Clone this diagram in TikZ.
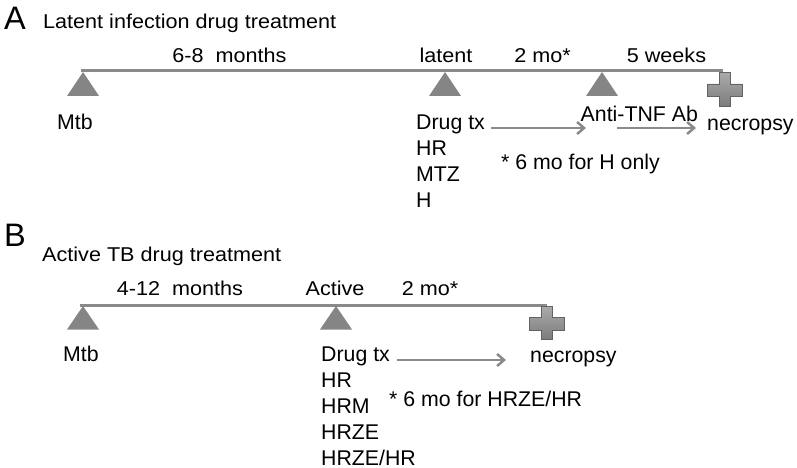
\documentclass[tikz,border=0pt]{standalone}
\usepackage{fontspec}
\setmainfont{Liberation Sans}
\newfontfamily\widefont{Liberation Sans}[FakeStretch=1.08]
\usetikzlibrary{arrows.meta}
\definecolor{tlgray}{HTML}{8A8A8A}
\definecolor{trigray}{HTML}{858585}
\definecolor{crosstop}{HTML}{ABABAB}
\definecolor{crossbot}{HTML}{7C7C7C}
\tikzset{
  lbl/.style={inner sep=0pt, anchor=base west, font=\fontsize{21.3}{25}\selectfont},
  toplbl/.style={inner sep=0pt, anchor=base, font=\widefont\fontsize{20}{24}\selectfont},
  ttl/.style={inner sep=0pt, anchor=base west, font=\widefont\fontsize{20}{24}\selectfont},
  panel/.style={inner sep=0pt, anchor=base west, font=\fontsize{32.5}{36}\selectfont},
  tline/.style={draw=tlgray, line width=3pt},
  tri/.style={fill=trigray},
  arr/.style={draw=tlgray, line width=2.5pt, -{Straight Barb[length=7pt,width=12pt,line width=2.5pt]}},
  crossmark/.pic={
    \shade[top color=crosstop, bottom color=crossbot, draw=crossbot!80!black, line width=0.4pt]
      (-5.5,0) -- (5.5,0) -- (5.5,11.5) -- (17.5,11.5) -- (17.5,24) -- (5.5,24)
      -- (5.5,33.5) -- (-5.5,33.5) -- (-5.5,24) -- (-17.5,24) -- (-17.5,11.5)
      -- (-5.5,11.5) -- cycle;
  }
}
\begin{document}
\begin{tikzpicture}[x=1pt,y=-1pt]
\useasboundingbox (0,0) rectangle (797,468);

% ---------------- Panel A ----------------
\node[panel] (pA) at (4,30) {A};
\node[ttl] (titleA) at (43,28.5) {Latent infection drug treatment};

\node[toplbl] (durA) at (229.5,63) {6-8\ \ months};
\node[toplbl] (latA) at (446,62.5) {latent};
\node[toplbl] (twoA) at (542.5,62.5) {2 mo*};
\node[toplbl] (fiveA) at (666.5,62.5) {5 weeks};

\coordinate (startA) at (81,71);
\coordinate (endA) at (723,71);
\coordinate (t1A) at (83,72);
\coordinate (t2A) at (445,72);
\coordinate (t3A) at (602,72);
\draw[tline] (startA) -- (endA);
\fill[tri] (t1A) -- ++(16,24) -- ++(-32,0) -- cycle;
\fill[tri] (t2A) -- ++(16,24) -- ++(-32,0) -- cycle;
\fill[tri] (t3A) -- ++(16,24) -- ++(-32,0) -- cycle;
\pic at (725,72.5) {crossmark};

\node[lbl] (mtbA) at (57,129.5) {Mtb};
\node[lbl] (drugA) at (416,129.5) {Drug tx};
\node[lbl] (hrA) at (416,155.5) {HR};
\node[lbl] (mtzA) at (416,181.5) {MTZ};
\node[lbl] (hA) at (416,207) {H};
\node[lbl] (tnfA) at (580.5,121.5) {Anti-TNF Ab};
\node[lbl] (necA) at (707,130) {necropsy};
\node[lbl] (noteA) at (501,169.5) {* 6 mo for H only};

\coordinate (a1s) at (491,128);
\coordinate (a1e) at (586,128);
\coordinate (a2s) at (617,128);
\coordinate (a2e) at (696,128);
\draw[arr] (a1s) -- (a1e);
\draw[arr] (a2s) -- (a2e);

% ---------------- Panel B ----------------
\node[panel] (pB) at (4,246) {B};
\node[ttl] (titleB) at (42,261) {Active TB drug treatment};

\node[toplbl] (durB) at (180,295) {4-12\ \ months};
\node[toplbl] (actB) at (335,295) {Active};
\node[toplbl] (twoB) at (430,295) {2 mo*};

\coordinate (startB) at (80,305);
\coordinate (endB) at (547,305);
\coordinate (t1B) at (83,306);
\coordinate (t2B) at (336,306);
\draw[tline] (startB) -- (endB);
\fill[tri] (t1B) -- ++(16,23.5) -- ++(-32,0) -- cycle;
\fill[tri] (t2B) -- ++(16,23.5) -- ++(-32,0) -- cycle;
\pic at (547,306) {crossmark};

\node[lbl] (mtbB) at (63,361.5) {Mtb};
\node[lbl] (drugB) at (321,361.5) {Drug tx};
\node[lbl] (hrB) at (321,387.5) {HR};
\node[lbl] (hrmB) at (321,413.5) {HRM};
\node[lbl] (hrzeB) at (321,439.5) {HRZE};
\node[lbl] (hrzehrB) at (321,465) {HRZE/HR};
\node[lbl] (necB) at (530,362) {necropsy};
\node[lbl] (noteB) at (389,406.5) {* 6 mo for HRZE/HR};

\coordinate (b1s) at (397,360);
\coordinate (b1e) at (506,360);
\draw[arr] (b1s) -- (b1e);
\end{tikzpicture}
\end{document}
